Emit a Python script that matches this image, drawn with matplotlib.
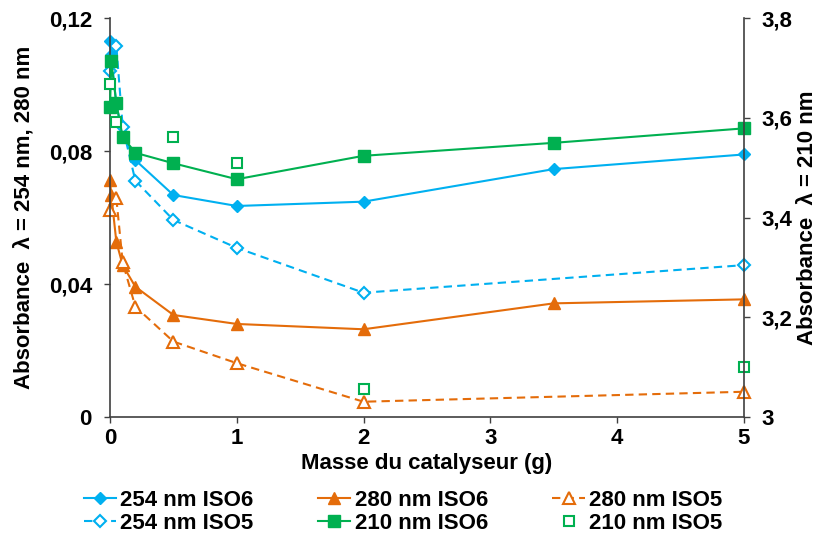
import matplotlib
matplotlib.use("Agg")
import matplotlib.pyplot as plt
from matplotlib.ticker import FuncFormatter

# catalyst mass (g)
x_full = [0, 0.01, 0.05, 0.1, 0.2, 0.5, 1, 2, 3.5, 5]
x_iso5 = [0, 0.05, 0.1, 0.2, 0.5, 1, 2, 5]
x_210_iso5 = [0, 0.05, 0.5, 1, 2, 5]

# absorbance, left axis (254 / 280 nm)
a254_iso6 = [0.113, 0.109, 0.094, 0.085, 0.0773, 0.0668, 0.0635, 0.0648, 0.0746, 0.079]
a254_iso5 = [0.104, 0.1116, 0.0873, 0.0711, 0.0593, 0.0509, 0.0374, 0.0457]
a280_iso6 = [0.0713, 0.0668, 0.0527, 0.0457, 0.0392, 0.0307, 0.0280, 0.0264, 0.0342, 0.0354]
a280_iso5 = [0.0623, 0.0658, 0.0465, 0.0332, 0.0227, 0.0162, 0.0046, 0.0076]

# absorbance, right axis (210 nm)
a210_iso6 = [3.621, 3.714, 3.629, 3.562, 3.530, 3.509, 3.477, 3.524, 3.550, 3.579]
a210_iso5 = [3.669, 3.592, 3.561, 3.509, 3.0555, 3.10]

blue = "#00B0F0"
orange = "#E46C0A"
green = "#00B050"

plt.rcParams["font.family"] = ["Liberation Sans", "DejaVu Sans"]
plt.rcParams["font.weight"] = "bold"
plt.rcParams["axes.labelweight"] = "bold"
plt.rcParams["font.size"] = 16

fig = plt.figure(figsize=(8.21, 5.36), dpi=100)
ax = fig.add_axes([0.134, 0.222, 0.772, 0.744])
ax2 = ax.twinx()

dash = (0, (4, 2.5))
l1, = ax.plot(x_full, a254_iso6, color=blue, marker="D", ms=6.5, lw=1.5,
              label="254 nm ISO6", clip_on=False)
l2, = ax.plot(x_iso5, a254_iso5, color=blue, marker="D", ms=6, lw=1.5, ls=dash,
              mfc="white", mew=1.5, label="254 nm ISO5", clip_on=False)
l3, = ax.plot(x_full, a280_iso6, color=orange, marker="^", ms=8.5, lw=1.5,
              label="280 nm ISO6", clip_on=False)
l5, = ax.plot(x_iso5, a280_iso5, color=orange, marker="^", ms=8, lw=1.5, ls=dash,
              mfc="white", mew=1.5, label="280 nm ISO5", clip_on=False)
l4, = ax2.plot(x_full, a210_iso6, color=green, marker="s", ms=8, lw=1.5,
               label="210 nm ISO6", clip_on=False)
l6, = ax2.plot(x_210_iso5, a210_iso5, color=green, marker="s", ms=7.5, lw=0,
               mfc="white", mew=1.5, label="210 nm ISO5", clip_on=False)

ax.set_xlim(0, 5)
ax.set_ylim(0, 0.12)
ax2.set_ylim(3, 3.8)
ax.set_xticks([0, 1, 2, 3, 4, 5])
ax.set_yticks([0, 0.04, 0.08, 0.12])
ax2.set_yticks([3, 3.2, 3.4, 3.6, 3.8])

# decimal comma on both y axes
comma = FuncFormatter(lambda v, p: ("%g" % round(v, 4)).replace(".", ","))
ax.yaxis.set_major_formatter(comma)
ax2.yaxis.set_major_formatter(comma)

for a in (ax, ax2):
    a.spines["top"].set_visible(False)
    a.tick_params(length=4, width=1, color="#404040")
    for s in a.spines.values():
        s.set_linewidth(1.2)
        s.set_color("#404040")
ax.spines["right"].set_visible(False)
ax2.spines["left"].set_visible(False)
ax2.spines["bottom"].set_visible(False)
ax.tick_params(axis="y", pad=9)
ax.tick_params(axis="x", pad=4)
ax2.tick_params(axis="y", pad=9)

ax.set_xlabel("Masse du catalyseur (g)", labelpad=3)
ax.set_ylabel("Absorbance  λ = 254 nm, 280 nm", labelpad=10)
ax2.set_ylabel("Absorbance  λ = 210 nm", labelpad=3)

# legend below, 3 columns, filled column-wise
handles = [l1, l2, l3, l4, l5, l6]
fig.legend(handles=handles, ncol=3, loc="center left", bbox_to_anchor=(0.102, 0.045),
           frameon=False, handlelength=1.45, handletextpad=0.2, columnspacing=2.9,
           labelspacing=0.08, borderpad=0, borderaxespad=0)

plt.savefig("out.png", dpi=100)
